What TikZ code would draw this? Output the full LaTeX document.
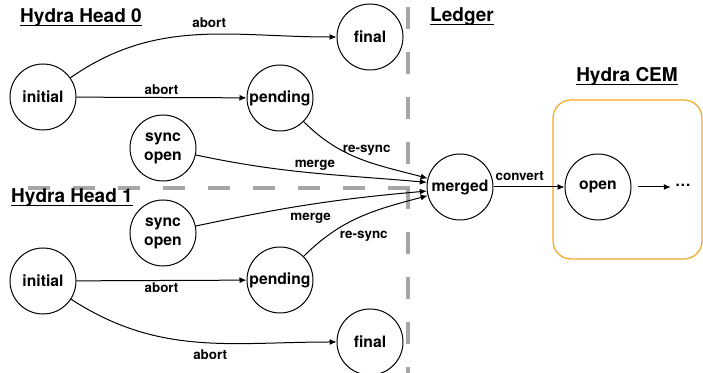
\documentclass[tikz,border=0pt]{standalone}
\usepackage{fontspec}
\setmainfont{TeX Gyre Heros}
\usepackage{tikz}
\usetikzlibrary{arrows.meta}
\definecolor{cemorange}{RGB}{245,166,35}

\begin{document}
\begin{tikzpicture}[x=0.5pt, y=-0.5pt,
  state/.style={circle, draw, line width=0.5pt, minimum size=33pt, inner sep=0pt, align=center, font=\bfseries\fontsize{7.85}{9.5}\selectfont},
  lbl/.style={font=\bfseries\fontsize{6.7}{8}\selectfont, inner sep=1pt},
  head/.style={font=\bfseries\fontsize{9.5}{11}\selectfont},
  trans/.style={-{Latex[length=3.5pt,width=3pt]}, line width=0.5pt},
  divider/.style={draw=gray!70, line width=2pt, dash pattern=on 11pt off 11.5pt}]
\useasboundingbox (0,0) rectangle (703,373);

% dividers
\draw[divider] (408,7) -- (408,373);
\draw[divider] (28,188) -- (410,188);

% headings
\node[head] (head0) at (81,25) {\underline{\smash{Hydra Head 0}}};
\node[head] (head1) at (72,205) {\underline{\smash{Hydra Head 1}}};
\node[head] (ledger) at (462,24) {\underline{\smash{Ledger}}};
\node[head] (cemhead) at (627,84) {\underline{\smash{Hydra CEM}}};

\node[draw=cemorange, line width=0.6pt, rounded corners=9pt, minimum width=74.5pt, minimum height=79.5pt] (cem) at (627.5,179.5) {};

% head 0
\node[state] (init0) at (43,97) {initial};
\node[state] (final0) at (370,37) {final};
\node[state] (pend0) at (280,98) {pending};
\node[state] (sync0) at (163,148) {sync\\open};

% head 1
\node[state] (sync1) at (163,233) {sync\\open};
\node[state] (init1) at (43,281) {initial};
\node[state] (pend1) at (280,280) {pending};
\node[state] (final1) at (370,342) {final};

% ledger and cem
\node[state] (merged) at (460,187) {merged};
\node[state] (open) at (598,187) {open};
\node[font=\bfseries\fontsize{7.85}{9.5}\selectfont, inner sep=2pt] (dots) at (683,185) {\ldots};

\draw[trans] (init0) to[out=35, in=180] node[lbl, above=2pt, pos=0.55] {abort} (final0);
\draw[trans] (init0) -- node[lbl, above] {abort} (pend0);
\draw[trans] (pend0) to[out=-45, in=165] node[lbl, anchor=west, pos=0.3, xshift=1.5pt, yshift=-1pt] {re-sync} (merged.165);
\draw[trans] (sync0) to[out=-12, in=175] node[lbl, above, pos=0.52] {merge} (merged.172);
\draw[trans] (sync1) to[out=12, in=185] node[lbl, below=3pt, pos=0.5] {merge} (merged.187);
\draw[trans] (pend1) to[out=45, in=195] node[lbl, anchor=north west, pos=0.3] {re-sync} (merged.195);
\draw[trans] (init1) -- node[lbl, below] {abort} (pend1);
\draw[trans] (init1) to[out=-33, in=180] node[lbl, below=2pt, pos=0.55] {abort} (final1);
\draw[trans] (merged) -- node[lbl, above=2pt, pos=0.37] {convert} (open);
\draw[trans, shorten <=3pt] (open) -- (dots.west |- open);
\end{tikzpicture}
\end{document}
